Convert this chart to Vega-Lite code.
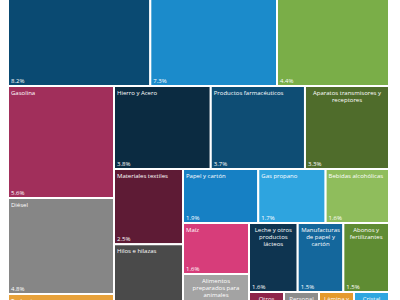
{
"$schema":"https://vega.github.io/schema/vega-lite/v6.json",
"padding":{"left":8,"top":0,"right":0,"bottom":0},
"config":{"view":{"stroke":null},"concat":{"spacing":0},"font":"Open Sans","text":{"font":"Open Sans"},
"range":{"category":["#0A4A72","#1B8BCB","#7AAE48","#A12F5B","#868686","#E8A23B","#0B2B41","#0E4D74","#4F6C2B","#5E1B35","#4A4A4A","#1680C4","#2EA4DF","#8FBD5C","#D73D7A","#A3A3A3","#0E3450","#14679C","#5F8C33","#8E2449","#8C8C8C","#E59A2C","#2EA6E0"]}},
"datasets":{"items":[
{"rank":1,"strip":"ab","name":"Rubro 1","label":"","share":0.082},
{"rank":2,"strip":"ab","name":"Rubro 2","label":"","share":0.073},
{"rank":3,"strip":"c","name":"Rubro 3","label":"","share":0.044},
{"rank":4,"strip":"left","name":"Gasolina","label":"Gasolina","share":0.056},
{"rank":5,"strip":"left","name":"Diésel","label":"Diésel","share":0.048},
{"rank":6,"strip":"left","name":"Turbosina","label":"Turbosina","share":0.03},
{"rank":7,"strip":"row2","name":"Hierro y Acero","label":"Hierro y Acero","share":0.038},
{"rank":8,"strip":"row2","name":"Productos farmacéuticos","label":"Productos farmacéuticos","share":0.037},
{"rank":9,"strip":"row2","name":"Aparatos transmisores y receptores","label":"Aparatos transmisores y\nreceptores","share":0.033},
{"rank":10,"strip":"col3","name":"Materiales textiles","label":"Materiales textiles","share":0.025},
{"rank":11,"strip":"col3","name":"Hilos e hilazas","label":"Hilos e hilazas","share":0.022},
{"rank":12,"strip":"row4","name":"Papel y cartón","label":"Papel y cartón","share":0.019},
{"rank":13,"strip":"row4","name":"Gas propano","label":"Gas propano","share":0.017},
{"rank":14,"strip":"row4","name":"Bebidas alcohólicas","label":"Bebidas alcohólicas","share":0.016},
{"rank":15,"strip":"col5","name":"Maíz","label":"Maíz","share":0.016},
{"rank":16,"strip":"col5","name":"Alimentos preparados para animales","label":"Alimentos\npreparados para\nanimales","share":0.014},
{"rank":17,"strip":"row6","name":"Leche y otros productos lácteos","label":"Leche y otros\nproductos\nlácteos","share":0.016},
{"rank":18,"strip":"row6","name":"Manufacturas de papel y cartón","label":"Manufacturas\nde papel y\ncartón","share":0.015},
{"rank":19,"strip":"row6","name":"Abonos y fertilizantes","label":"Abonos y\nfertilizantes","share":0.015},
{"rank":20,"strip":"row7","name":"Otros","label":"Otros","share":0.014},
{"rank":21,"strip":"row7","name":"Personal","label":"Personal","share":0.014},
{"rank":22,"strip":"row7","name":"Lámina y","label":"Lámina y","share":0.014},
{"rank":23,"strip":"row7","name":"Cristal","label":"Cristal","share":0.014}
]},
"data":{"name":"items"},
"transform":[{"stack":"share","groupby":["strip"],"sort":[{"field":"rank","order":"ascending"}],"as":["s0","s1"]}],
"spacing":0,
"vconcat":[
{"spacing":0,"hconcat":[
 {"width":269,"height":86,"transform":[{"filter":"datum.strip === 'ab'"}],"layer":[
  {"mark":{"type":"rect","stroke":"white","strokeWidth":2,"clip":true},"encoding":{"x":{"field":"s0","type":"quantitative","scale":{"domain":[0,0.155]},"axis":null},"x2":{"field":"s1"},"y":{"datum":0,"type":"quantitative","scale":{"domain":[0,0.9]},"axis":null},"y2":{"datum":1},"color":{"field":"rank","type":"nominal","legend":null}}},
  {"mark":{"type":"text","align":"left","baseline":"alphabetic","dx":3,"dy":-3,"color":"white","fontSize":6,"clip":true},"encoding":{"x":{"field":"s0","type":"quantitative","scale":{"domain":[0,0.155]},"axis":null},"y":{"datum":0,"type":"quantitative","scale":{"domain":[0,0.9]},"axis":null},"text":{"field":"share","format":".1%"}}}
 ]},
 {"width":112,"height":86,"transform":[{"filter":"datum.strip === 'c'"}],"layer":[
  {"mark":{"type":"rect","stroke":"white","strokeWidth":2,"clip":true},"encoding":{"x":{"field":"s0","type":"quantitative","scale":{"domain":[0,0.044]},"axis":null},"x2":{"field":"s1"},"y":{"datum":0,"type":"quantitative","scale":{"domain":[0,0.9]},"axis":null},"y2":{"datum":1},"color":{"field":"rank","type":"nominal","legend":null}}},
  {"mark":{"type":"text","align":"left","baseline":"alphabetic","dx":3,"dy":-3,"color":"white","fontSize":6,"clip":true},"encoding":{"x":{"field":"s0","type":"quantitative","scale":{"domain":[0,0.044]},"axis":null},"y":{"datum":0,"type":"quantitative","scale":{"domain":[0,0.9]},"axis":null},"text":{"field":"share","format":".1%"}}}
 ]}
]},
{"spacing":0,"hconcat":[
 {"width":106,"height":214,"transform":[{"filter":"datum.strip === 'left'"}],"layer":[
  {"mark":{"type":"rect","stroke":"white","strokeWidth":2,"clip":true},"encoding":{"y":{"field":"s0","type":"quantitative","scale":{"domain":[0,0.107],"reverse":true},"axis":null},"y2":{"field":"s1"},"color":{"field":"rank","type":"nominal","legend":null}}},
  {"mark":{"type":"text","align":"left","baseline":"top","dx":3,"dy":4,"color":"white","fontSize":6,"clip":true},"encoding":{"x":{"datum":0,"type":"quantitative","scale":{"domain":[0,1]},"axis":null},"y":{"field":"s0","type":"quantitative","scale":{"domain":[0,0.107],"reverse":true},"axis":null},"text":{"field":"label"}}},
  {"mark":{"type":"text","align":"left","baseline":"alphabetic","dx":3,"dy":-3,"color":"white","fontSize":6,"clip":true},"encoding":{"x":{"datum":0,"type":"quantitative","scale":{"domain":[0,1]},"axis":null},"y":{"field":"s1","type":"quantitative","scale":{"domain":[0,0.107],"reverse":true},"axis":null},"text":{"field":"share","format":".1%"}}}
 ]},
 {"spacing":0,"vconcat":[
  {"width":275,"height":83,"transform":[{"filter":"datum.strip === 'row2'"}],"layer":[
   {"mark":{"type":"rect","stroke":"white","strokeWidth":2,"clip":true},"encoding":{"x":{"field":"s0","type":"quantitative","scale":{"domain":[0,0.108]},"axis":null},"x2":{"field":"s1"},"color":{"field":"rank","type":"nominal","legend":null}}},
   {"transform":[{"filter":"datum.label != '' && indexof(datum.label, '\\n') < 0"}],"mark":{"type":"text","align":"left","baseline":"top","dx":3,"dy":4,"color":"white","fontSize":6,"clip":true},"encoding":{"x":{"field":"s0","type":"quantitative","scale":{"domain":[0,0.108]},"axis":null},"y":{"datum":1,"type":"quantitative","scale":{"domain":[0,1]},"axis":null},"text":{"field":"label"}}},
   {"mark":{"type":"text","align":"center","baseline":"top","dy":4,"lineBreak":"\n","lineHeight":7,"color":"white","fontSize":6,"clip":true},"encoding":{"x":{"field":"share","type":"quantitative","stack":"zero","bandPosition":0.5,"scale":{"domain":[0,0.108]},"axis":null},"y":{"datum":1,"type":"quantitative","scale":{"domain":[0,1]},"axis":null},"detail":{"field":"name"},"order":{"field":"rank","type":"quantitative"},"text":{"condition":{"test":"indexof(datum.label, '\\n') >= 0","field":"label"},"value":""}}},
   {"mark":{"type":"text","align":"left","baseline":"alphabetic","dx":3,"dy":-3,"color":"white","fontSize":6,"clip":true},"encoding":{"x":{"field":"s0","type":"quantitative","scale":{"domain":[0,0.108]},"axis":null},"y":{"datum":0,"type":"quantitative","scale":{"domain":[0,1]},"axis":null},"text":{"field":"share","format":".1%"}}}
  ]},
  {"spacing":0,"hconcat":[
   {"width":69,"height":131,"transform":[{"filter":"datum.strip === 'col3'"}],"layer":[
    {"mark":{"type":"rect","stroke":"white","strokeWidth":2,"clip":true},"encoding":{"y":{"field":"s0","type":"quantitative","scale":{"domain":[0,0.0435],"reverse":true},"axis":null},"y2":{"field":"s1"},"color":{"field":"rank","type":"nominal","legend":null}}},
    {"mark":{"type":"text","align":"left","baseline":"top","dx":3,"dy":4,"color":"white","fontSize":6,"clip":true},"encoding":{"x":{"datum":0,"type":"quantitative","scale":{"domain":[0,1]},"axis":null},"y":{"field":"s0","type":"quantitative","scale":{"domain":[0,0.0435],"reverse":true},"axis":null},"text":{"field":"label"}}},
    {"mark":{"type":"text","align":"left","baseline":"alphabetic","dx":3,"dy":-3,"color":"white","fontSize":6,"clip":true},"encoding":{"x":{"datum":0,"type":"quantitative","scale":{"domain":[0,1]},"axis":null},"y":{"field":"s1","type":"quantitative","scale":{"domain":[0,0.0435],"reverse":true},"axis":null},"text":{"field":"share","format":".1%"}}}
   ]},
   {"spacing":0,"vconcat":[
    {"width":206,"height":54,"transform":[{"filter":"datum.strip === 'row4'"}],"layer":[
     {"mark":{"type":"rect","stroke":"white","strokeWidth":2,"clip":true},"encoding":{"x":{"field":"s0","type":"quantitative","scale":{"domain":[0,0.052]},"axis":null},"x2":{"field":"s1"},"color":{"field":"rank","type":"nominal","legend":null}}},
     {"mark":{"type":"text","align":"left","baseline":"top","dx":3,"dy":4,"color":"white","fontSize":6,"clip":true},"encoding":{"x":{"field":"s0","type":"quantitative","scale":{"domain":[0,0.052]},"axis":null},"y":{"datum":1,"type":"quantitative","scale":{"domain":[0,1]},"axis":null},"text":{"field":"label"}}},
     {"mark":{"type":"text","align":"left","baseline":"alphabetic","dx":3,"dy":-3,"color":"white","fontSize":6,"clip":true},"encoding":{"x":{"field":"s0","type":"quantitative","scale":{"domain":[0,0.052]},"axis":null},"y":{"datum":0,"type":"quantitative","scale":{"domain":[0,1]},"axis":null},"text":{"field":"share","format":".1%"}}}
    ]},
    {"spacing":0,"hconcat":[
     {"width":66,"height":77,"transform":[{"filter":"datum.strip === 'col5'"}],"layer":[
      {"mark":{"type":"rect","stroke":"white","strokeWidth":2,"clip":true},"encoding":{"y":{"field":"s0","type":"quantitative","scale":{"domain":[0,0.0241],"reverse":true},"axis":null},"y2":{"field":"s1"},"color":{"field":"rank","type":"nominal","legend":null}}},
      {"transform":[{"filter":"indexof(datum.label, '\\n') < 0"}],"mark":{"type":"text","align":"left","baseline":"top","dx":3,"dy":4,"color":"white","fontSize":6,"clip":true},"encoding":{"x":{"datum":0,"type":"quantitative","scale":{"domain":[0,1]},"axis":null},"y":{"field":"s0","type":"quantitative","scale":{"domain":[0,0.0241],"reverse":true},"axis":null},"text":{"field":"label"}}},
      {"transform":[{"filter":"indexof(datum.label, '\\n') >= 0"}],"mark":{"type":"text","align":"center","baseline":"top","dy":4,"lineBreak":"\n","lineHeight":7,"color":"white","fontSize":6,"clip":true},"encoding":{"x":{"datum":0.5,"type":"quantitative","scale":{"domain":[0,1]},"axis":null},"y":{"field":"s0","type":"quantitative","scale":{"domain":[0,0.0241],"reverse":true},"axis":null},"text":{"field":"label"}}},
      {"mark":{"type":"text","align":"left","baseline":"alphabetic","dx":3,"dy":-3,"color":"white","fontSize":6,"clip":true},"encoding":{"x":{"datum":0,"type":"quantitative","scale":{"domain":[0,1]},"axis":null},"y":{"field":"s1","type":"quantitative","scale":{"domain":[0,0.0241],"reverse":true},"axis":null},"text":{"field":"share","format":".1%"}}}
     ]},
     {"spacing":0,"vconcat":[
      {"width":140,"height":69,"transform":[{"filter":"datum.strip === 'row6'"}],"layer":[
       {"mark":{"type":"rect","stroke":"white","strokeWidth":2,"clip":true},"encoding":{"x":{"field":"s0","type":"quantitative","scale":{"domain":[0,0.046]},"axis":null},"x2":{"field":"s1"},"color":{"field":"rank","type":"nominal","legend":null}}},
       {"mark":{"type":"text","align":"center","baseline":"top","dy":4,"lineBreak":"\n","lineHeight":7,"color":"white","fontSize":6,"clip":true},"encoding":{"x":{"field":"share","type":"quantitative","stack":"zero","bandPosition":0.5,"scale":{"domain":[0,0.046]},"axis":null},"y":{"datum":1,"type":"quantitative","scale":{"domain":[0,1]},"axis":null},"detail":{"field":"name"},"order":{"field":"rank","type":"quantitative"},"text":{"field":"label"}}},
       {"mark":{"type":"text","align":"left","baseline":"alphabetic","dx":3,"dy":-3,"color":"white","fontSize":6,"clip":true},"encoding":{"x":{"field":"s0","type":"quantitative","scale":{"domain":[0,0.046]},"axis":null},"y":{"datum":0,"type":"quantitative","scale":{"domain":[0,1]},"axis":null},"text":{"field":"share","format":".1%"}}}
      ]},
      {"width":140,"height":8,"transform":[{"filter":"datum.strip === 'row7'"}],"layer":[
       {"mark":{"type":"rect","stroke":"white","strokeWidth":2,"clip":true},"encoding":{"x":{"field":"s0","type":"quantitative","scale":{"domain":[0,0.056]},"axis":null},"x2":{"field":"s1"},"y":{"datum":0,"type":"quantitative","scale":{"domain":[0.9,1]},"axis":null},"y2":{"datum":1},"color":{"field":"rank","type":"nominal","legend":null}}},
       {"mark":{"type":"text","align":"center","baseline":"top","dy":4,"lineBreak":"\n","lineHeight":7,"color":"white","fontSize":6,"clip":true},"encoding":{"x":{"field":"share","type":"quantitative","stack":"zero","bandPosition":0.5,"scale":{"domain":[0,0.056]},"axis":null},"y":{"datum":1,"type":"quantitative","scale":{"domain":[0.9,1]},"axis":null},"detail":{"field":"name"},"order":{"field":"rank","type":"quantitative"},"text":{"field":"label"}}}
      ]}
     ]}
    ]}
   ]}
  ]}
 ]}
]}
]
}
